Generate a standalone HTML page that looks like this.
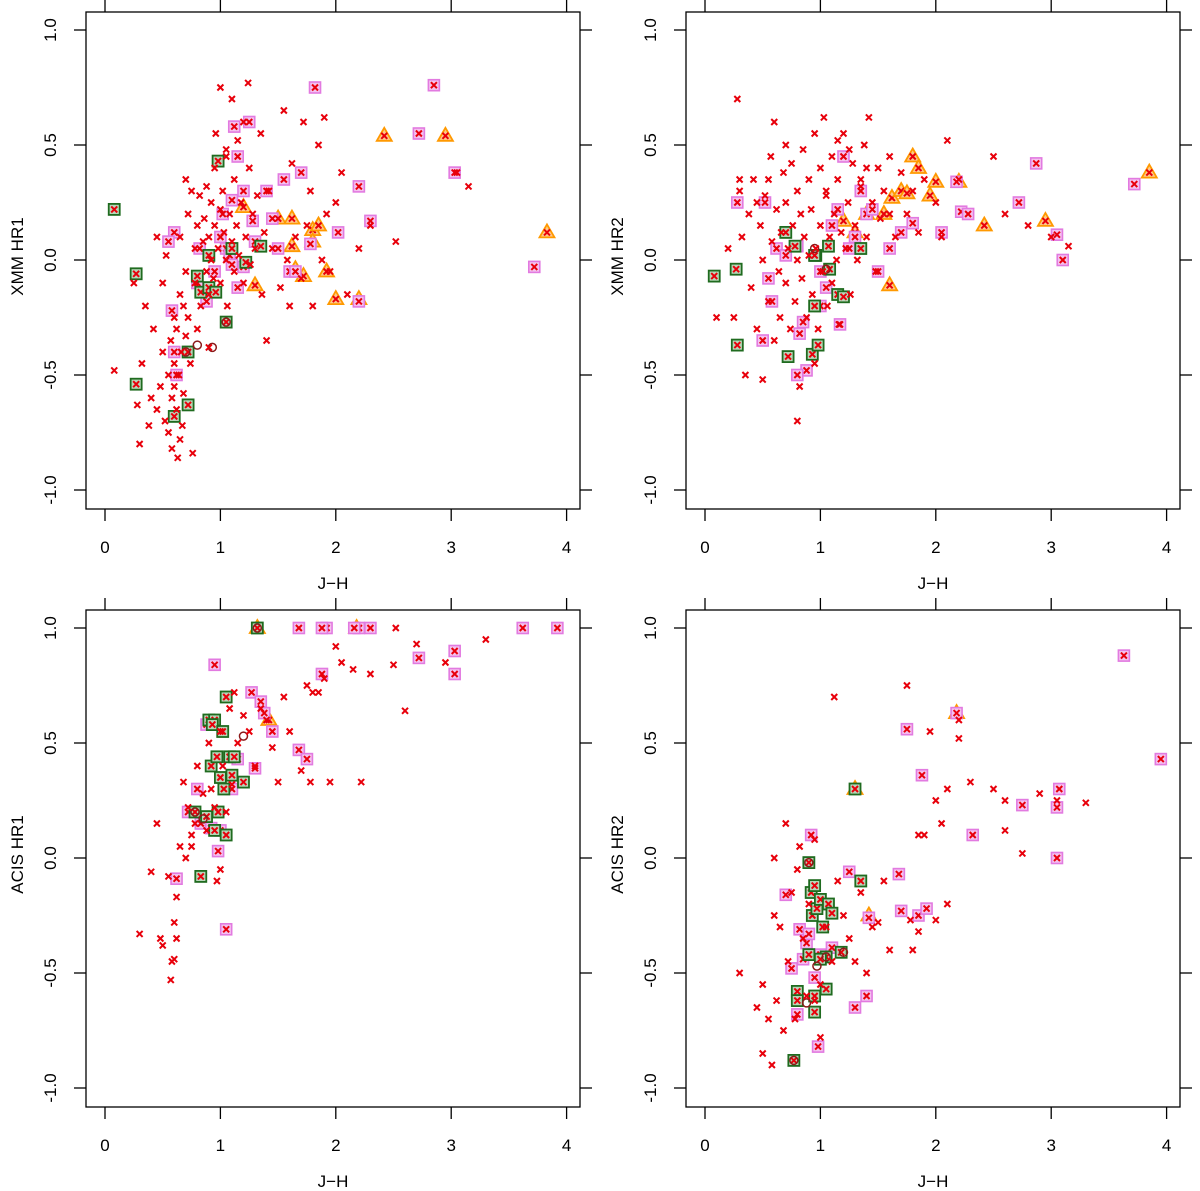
<!DOCTYPE html>
<html><head><meta charset="utf-8"><style>
html,body{margin:0;padding:0;background:#fff;}
svg{display:block;font-family:"Liberation Sans",sans-serif;}
</style></head><body>
<svg id="c" width="1200" height="1191" viewBox="0 0 1200 1191"></svg>
<script>
// ---- data: [J-H, HR] ----
const p1Red=[[0.08,-0.48],[0.25,-0.1],[0.28,-0.63],[0.3,-0.8],[0.32,-0.45],[0.35,-0.2],[0.38,-0.72],[0.4,-0.6],[0.42,-0.3],[0.45,-0.65],[0.45,0.1],[0.48,-0.55],[0.5,-0.4],[0.5,-0.1],[0.52,-0.7],[0.53,0.02],[0.55,-0.5],[0.55,-0.75],[0.57,-0.35],[0.58,-0.6],[0.58,-0.82],[0.6,-0.25],[0.6,-0.45],[0.6,-0.55],[0.62,-0.3],[0.62,-0.65],[0.63,-0.86],[0.64,-0.5],[0.65,-0.78],[0.65,-0.15],[0.66,-0.4],[0.67,-0.72],[0.68,-0.2],[0.68,-0.58],[0.7,-0.33],[0.7,-0.05],[0.72,-0.25],[0.72,0.2],[0.74,-0.45],[0.75,0.3],[0.76,-0.84],[0.78,-0.1],[0.78,0.05],[0.8,-0.3],[0.8,0.15],[0.82,0.28],[0.83,-0.2],[0.85,0.08],[0.86,0.18],[0.88,-0.05],[0.88,0.32],[0.9,0.1],[0.9,-0.15],[0.92,0.25],[0.92,0.0],[0.94,-0.08],[0.95,0.4],[0.95,0.15],[0.96,0.55],[0.98,0.05],[1.0,0.22],[1.0,-0.1],[1.02,0.3],[1.03,0.12],[1.05,0.0],[1.05,0.45],[1.06,-0.2],[1.08,0.2],[1.1,0.08],[1.1,0.7],[1.12,0.35],[1.12,-0.05],[1.14,0.15],[1.15,0.52],[1.16,0.02],[1.18,0.25],[1.2,0.6],[1.2,-0.1],[1.22,0.1],[1.24,0.77],[1.25,0.4],[1.26,-0.02],[1.28,0.2],[1.3,0.05],[1.32,0.28],[1.35,0.55],[1.36,-0.15],[1.38,0.12],[1.4,-0.35],[1.42,0.3],[1.45,0.05],[1.5,0.18],[1.52,-0.12],[1.55,0.65],[1.58,0.0],[1.6,-0.2],[1.62,0.42],[1.65,0.1],[1.7,-0.08],[1.72,0.6],[1.75,0.15],[1.78,0.3],[1.8,-0.2],[1.85,0.5],[1.88,0.0],[1.9,0.62],[1.92,0.2],[1.95,-0.05],[2.0,0.25],[2.05,0.38],[2.1,-0.15],[2.2,0.05],[2.3,0.15],[2.52,0.08],[3.05,0.38],[3.15,0.32],[0.7,0.35],[0.65,0.1],[1.0,0.75],[1.05,0.48],[0.9,-0.38]];
const p1Pink=[[0.6,0.12],[0.55,0.08],[0.58,-0.22],[0.6,-0.4],[0.62,-0.5],[0.8,-0.1],[0.82,0.05],[0.88,-0.18],[1.0,0.1],[1.02,0.2],[1.05,0.05],[1.08,0.02],[1.1,-0.02],[1.12,0.58],[1.15,0.45],[1.2,0.3],[1.25,0.6],[1.28,0.17],[1.3,0.08],[1.4,0.3],[1.45,0.18],[1.5,0.05],[1.55,0.35],[1.6,-0.05],[1.7,0.38],[1.82,0.75],[1.78,0.07],[2.02,0.12],[2.2,0.32],[2.2,-0.18],[2.3,0.17],[2.72,0.55],[2.85,0.76],[3.03,0.38],[3.72,-0.03],[1.1,0.26],[1.2,-0.03],[1.15,-0.12],[1.65,-0.05],[0.95,-0.05]];
const p1Green=[[0.08,0.22],[0.27,-0.06],[0.27,-0.54],[0.6,-0.68],[0.72,-0.63],[0.72,-0.4],[0.8,-0.07],[0.83,-0.14],[0.9,-0.12],[0.96,-0.14],[0.98,0.43],[1.05,-0.27],[1.1,0.05],[1.22,-0.01],[1.35,0.06],[0.9,0.02]];
const p1Orange=[[1.2,0.23],[1.3,-0.11],[1.5,0.18],[1.62,0.18],[1.62,0.06],[1.8,0.13],[1.8,0.08],[1.85,0.15],[1.65,-0.04],[1.92,-0.05],[1.72,-0.07],[2.0,-0.17],[2.2,-0.17],[2.42,0.54],[2.95,0.54],[3.83,0.12]];
const p1Circ=[[0.8,-0.37],[0.93,-0.38],[1.05,-0.27],[0.7,-0.4]];

const p2Red=[[0.25,-0.25],[0.2,0.05],[0.28,0.7],[0.3,0.3],[0.32,0.1],[0.35,-0.5],[0.38,0.2],[0.4,-0.12],[0.42,0.35],[0.45,-0.3],[0.48,0.15],[0.5,-0.52],[0.5,0.0],[0.52,0.28],[0.55,-0.18],[0.57,0.45],[0.58,0.08],[0.6,-0.35],[0.6,0.6],[0.62,0.22],[0.64,-0.05],[0.65,-0.25],[0.66,0.12],[0.68,0.38],[0.7,-0.1],[0.7,0.25],[0.72,0.05],[0.74,-0.3],[0.75,0.42],[0.76,0.15],[0.78,-0.18],[0.8,0.3],[0.8,0.0],[0.82,-0.55],[0.83,0.2],[0.84,-0.08],[0.85,0.48],[0.86,0.1],[0.88,-0.25],[0.9,0.35],[0.9,0.02],[0.92,0.22],[0.93,-0.15],[0.95,0.55],[0.96,0.05],[0.98,-0.3],[1.0,0.4],[1.0,0.15],[1.02,-0.05],[1.03,0.62],[1.05,0.28],[1.06,-0.2],[1.08,0.1],[1.1,0.45],[1.1,-0.1],[1.12,0.2],[1.14,0.0],[1.15,0.35],[1.16,-0.28],[1.18,0.12],[1.2,0.55],[1.22,0.05],[1.24,0.25],[1.26,-0.15],[1.28,0.42],[1.3,0.15],[1.32,0.0],[1.35,0.32],[1.38,0.5],[1.4,0.1],[1.42,0.62],[1.45,0.25],[1.48,-0.05],[1.5,0.4],[1.52,0.18],[1.55,0.3],[1.6,0.45],[1.65,0.1],[1.7,0.38],[1.75,0.2],[1.8,0.3],[1.85,0.12],[1.9,0.35],[2.0,0.25],[2.05,0.1],[2.1,0.52],[2.2,0.35],[2.5,0.45],[2.6,0.2],[2.8,0.15],[3.0,0.1],[3.15,0.06],[0.8,-0.7],[1.25,0.48],[1.35,0.35],[0.7,0.5],[0.55,0.35],[0.3,0.35],[0.1,-0.25],[0.45,0.25],[0.95,-0.45],[1.05,0.3],[1.15,0.52],[1.4,0.4],[1.6,0.2]];
const p2Pink=[[0.28,0.25],[0.5,-0.35],[0.52,0.25],[0.55,-0.08],[0.58,-0.18],[0.62,0.05],[0.8,0.06],[0.82,-0.32],[0.85,-0.27],[0.88,-0.48],[0.8,-0.5],[0.95,0.02],[1.0,-0.05],[1.05,-0.12],[1.1,0.15],[1.15,0.22],[1.17,-0.28],[1.2,0.45],[1.25,0.05],[1.3,0.1],[1.35,0.3],[1.4,0.2],[1.45,0.22],[1.5,-0.05],[1.6,0.05],[1.7,0.12],[1.8,0.16],[2.05,0.12],[2.18,0.34],[2.22,0.21],[2.28,0.2],[2.72,0.25],[2.87,0.42],[3.05,0.11],[3.1,0.0],[3.72,0.33],[1.0,-0.2],[0.7,0.02]];
const p2Green=[[0.08,-0.07],[0.27,-0.04],[0.28,-0.37],[0.7,0.12],[0.72,-0.42],[0.78,0.06],[0.93,-0.41],[0.96,0.02],[0.98,-0.37],[1.07,0.06],[1.08,-0.04],[1.15,-0.15],[1.2,-0.16],[1.35,0.05],[0.95,0.02],[0.95,-0.2]];
const p2Orange=[[1.2,0.17],[1.3,0.12],[1.4,0.2],[1.55,0.2],[1.6,-0.11],[1.62,0.27],[1.7,0.3],[1.75,0.29],[1.8,0.45],[1.85,0.4],[1.95,0.28],[2.0,0.34],[2.2,0.34],[2.42,0.15],[2.95,0.17],[3.85,0.38]];
const p2Circ=[[1.05,-0.04],[0.95,0.05]];

const p3Red=[[0.3,-0.33],[0.4,-0.06],[0.45,0.15],[0.48,-0.35],[0.5,-0.38],[0.55,-0.08],[0.57,-0.53],[0.58,-0.45],[0.6,-0.44],[0.6,-0.28],[0.62,-0.17],[0.62,-0.35],[0.65,0.05],[0.68,0.33],[0.7,0.0],[0.72,0.22],[0.75,0.1],[0.78,0.15],[0.8,0.4],[0.85,0.28],[0.88,0.12],[0.9,0.5],[0.92,0.3],[0.95,0.22],[0.97,-0.1],[1.0,0.55],[1.02,0.4],[1.05,0.2],[1.08,0.65],[1.1,0.32],[1.12,0.72],[1.15,0.5],[1.2,0.62],[1.25,0.55],[1.3,0.4],[1.35,0.65],[1.4,0.6],[1.45,0.48],[1.5,0.33],[1.55,0.7],[1.6,0.55],[1.7,0.38],[1.75,0.75],[1.8,0.72],[1.85,0.72],[1.9,0.78],[1.95,0.33],[1.78,0.33],[2.0,0.92],[2.05,0.85],[2.15,0.82],[2.22,0.33],[2.3,0.8],[2.5,0.84],[2.6,0.64],[2.52,1.0],[2.7,0.93],[2.95,0.85],[3.3,0.95],[0.75,0.05],[1.0,-0.05]];
const p3Pink=[[0.62,-0.09],[0.72,0.2],[0.8,0.3],[0.83,0.15],[0.88,0.58],[0.92,0.13],[0.95,0.84],[0.98,0.03],[1.05,-0.31],[1.1,0.3],[1.15,0.43],[1.27,0.72],[1.3,0.39],[1.35,0.68],[1.38,0.63],[1.45,0.55],[1.68,0.47],[1.75,0.43],[1.88,0.8],[1.92,1.0],[2.2,1.0],[2.3,1.0],[2.72,0.87],[3.03,0.9],[3.03,0.8],[3.62,1.0],[3.92,1.0],[1.68,1.0],[1.88,1.0],[2.16,1.0],[1.0,0.12]];
const p3Green=[[0.78,0.2],[0.83,-0.08],[0.88,0.18],[0.9,0.6],[0.92,0.4],[0.95,0.6],[0.97,0.44],[1.0,0.35],[0.93,0.58],[1.02,0.55],[1.05,0.7],[1.05,0.1],[1.03,0.3],[1.08,0.44],[1.1,0.36],[1.12,0.44],[1.2,0.33],[1.32,1.0],[0.95,0.12],[0.98,0.2]];
const p3Orange=[[1.32,1.0],[2.18,1.0],[1.42,0.6]];
const p3Circ=[[0.78,0.2],[0.85,0.17],[1.2,0.53],[1.32,1.0]];

const p4Red=[[0.3,-0.5],[0.45,-0.65],[0.5,-0.85],[0.5,-0.55],[0.55,-0.7],[0.58,-0.9],[0.6,0.0],[0.6,-0.25],[0.62,-0.62],[0.65,-0.3],[0.68,-0.75],[0.7,0.15],[0.72,-0.45],[0.75,-0.15],[0.78,-0.7],[0.8,-0.05],[0.82,0.05],[0.85,-0.35],[0.88,-0.6],[0.9,-0.2],[0.95,0.08],[1.0,-0.55],[1.05,-0.3],[1.1,-0.45],[1.12,0.7],[1.15,-0.1],[1.2,-0.25],[1.25,-0.35],[1.3,-0.45],[1.35,-0.15],[1.4,-0.5],[1.45,-0.3],[1.5,-0.28],[1.55,-0.1],[1.6,-0.4],[1.75,0.75],[1.78,-0.27],[1.8,-0.4],[1.85,-0.32],[1.9,0.1],[1.95,0.55],[2.0,-0.27],[2.05,0.15],[2.1,-0.2],[2.2,0.52],[2.2,0.6],[2.3,0.33],[2.5,0.3],[2.6,0.25],[2.6,0.12],[2.75,0.02],[2.9,0.28],[3.05,0.25],[3.3,0.24],[2.0,0.25],[2.1,0.3],[1.85,0.1],[0.95,-0.62],[1.0,-0.78]];
const p4Pink=[[0.7,-0.16],[0.75,-0.48],[0.8,-0.68],[0.82,-0.31],[0.85,-0.44],[0.88,-0.37],[0.9,-0.33],[0.92,0.1],[0.95,-0.52],[0.98,-0.82],[1.0,-0.42],[1.05,-0.57],[1.1,-0.39],[1.25,-0.06],[1.3,-0.65],[1.4,-0.6],[1.42,-0.26],[1.68,-0.07],[1.7,-0.23],[1.75,0.56],[1.85,-0.25],[1.88,0.36],[1.92,-0.22],[2.18,0.63],[2.32,0.1],[2.75,0.23],[3.05,0.22],[3.07,0.3],[3.05,0.0],[3.63,0.88],[3.95,0.43]];
const p4Green=[[0.8,-0.58],[0.8,-0.62],[0.9,-0.02],[0.92,-0.15],[0.93,-0.25],[0.95,-0.12],[0.95,-0.6],[0.97,-0.22],[1.0,-0.18],[1.02,-0.3],[1.05,-0.43],[1.07,-0.2],[1.1,-0.24],[1.05,-0.57],[1.18,-0.41],[0.9,-0.42],[1.35,-0.1],[1.3,0.3],[0.95,-0.67],[1.0,-0.44],[0.77,-0.88]];
const p4Orange=[[1.3,0.3],[1.42,-0.25],[2.18,0.63]];
const p4Circ=[[0.77,-0.88],[0.88,-0.63],[0.9,-0.02],[1.05,-0.43],[1.2,-0.41],[0.97,-0.47]];

const xTicks=[0,1,2,3,4];
const yTicks=[-1.0,-0.5,0.0,0.5,1.0];
const yTickLabels=["-1.0","-0.5","0.0","0.5","1.0"];

const NS="http://www.w3.org/2000/svg";
const svg=document.getElementById('c');
function mk(tag,attrs,parent){const e=document.createElementNS(NS,tag);for(const k in attrs)e.setAttribute(k,attrs[k]);(parent||svg).appendChild(e);return e;}

const panels=[
 {L:86,T:12,yl:"XMM HR1",red:p1Red,pink:p1Pink,green:p1Green,orange:p1Orange,circ:p1Circ,id:"xmm-hr1"},
 {L:686,T:12,yl:"XMM HR2",red:p2Red,pink:p2Pink,green:p2Green,orange:p2Orange,circ:p2Circ,id:"xmm-hr2"},
 {L:86,T:610,yl:"ACIS HR1",red:p3Red,pink:p3Pink,green:p3Green,orange:p3Orange,circ:p3Circ,id:"acis-hr1"},
 {L:686,T:610,yl:"ACIS HR2",red:p4Red,pink:p4Pink,green:p4Green,orange:p4Orange,circ:p4Circ,id:"acis-hr2"}
];
const W=494,H=497;

panels.forEach(p=>{
  const g=mk('g',{});
  
  
  const sx=v=>p.L+19+v*115.4;
  const sy=v=>p.T+18+(1-v)*230;
  const frame=mk('rect',{x:p.L,y:p.T,width:W,height:H,fill:'none',stroke:'#000','stroke-width':1.3},g);
  
  
  xTicks.forEach(t=>{
    const x=sx(t);
    mk('line',{x1:x,y1:p.T+H,x2:x,y2:p.T+H+12,stroke:'#000','stroke-width':1.3},g);
    mk('line',{x1:x,y1:p.T,x2:x,y2:p.T-12,stroke:'#000','stroke-width':1.3},g);
    const tl=mk('text',{x:x,y:p.T+H+44,'text-anchor':'middle','font-size':17},g);
    tl.textContent=String(t);
    
    
  });
  yTicks.forEach((t,i)=>{
    const y=sy(t);
    mk('line',{x1:p.L,y1:y,x2:p.L-12,y2:y,stroke:'#000','stroke-width':1.3},g);
    mk('line',{x1:p.L+W,y1:y,x2:p.L+W+12,y2:y,stroke:'#000','stroke-width':1.3},g);
    const tl=mk('text',{x:0,y:0,'text-anchor':'middle','font-size':17,transform:`translate(${p.L-30},${y}) rotate(-90)`},g);
    tl.textContent=yTickLabels[i];
    
    
  });
  const xt=mk('text',{x:p.L+W/2,y:p.T+H+80,'text-anchor':'middle','font-size':17},g);
  xt.textContent="J\u2212H";
  
  
  const yt=mk('text',{x:0,y:0,'text-anchor':'middle','font-size':17,transform:`translate(${p.L-63},${p.T+H/2-4}) rotate(-90)`},g);
  yt.textContent=p.yl;
  
  

  function cross(x,y){
    const c=mk('path',{d:`M${x-3},${y-3}L${x+3},${y+3}M${x-3},${y+3}L${x+3},${y-3}`,stroke:'#e8000b','stroke-width':2,fill:'none'},g);
    
    
  }
  p.orange.forEach(d=>{
    const x=sx(d[0]),y=sy(d[1]);
    const e=mk('path',{d:`M${x},${y-8}L${x+7.5},${y+5}L${x-7.5},${y+5}Z`,fill:'#ffc98a',stroke:'#ff9900','stroke-width':1.8},g);
    
    
    cross(x,y);
  });
  p.pink.forEach(d=>{
    const x=sx(d[0]),y=sy(d[1]);
    const e=mk('rect',{x:x-5.5,y:y-5.5,width:11,height:11,fill:'#f4c2f0',stroke:'#e27ae0','stroke-width':1.6},g);
    
    
    cross(x,y);
  });
  p.green.forEach(d=>{
    const x=sx(d[0]),y=sy(d[1]);
    const e=mk('rect',{x:x-5.5,y:y-5.5,width:11,height:11,fill:'#b9d6b9',stroke:'#1f6b1f','stroke-width':1.8},g);
    
    
    cross(x,y);
  });
  p.circ.forEach(d=>{
    const x=sx(d[0]),y=sy(d[1]);
    const e=mk('circle',{cx:x,cy:y,r:4,fill:'none',stroke:'#8b1a1a','stroke-width':1.5},g);
    
    
  });
  p.red.forEach(d=>cross(sx(d[0]),sy(d[1])));
});
</script>
</body></html>
